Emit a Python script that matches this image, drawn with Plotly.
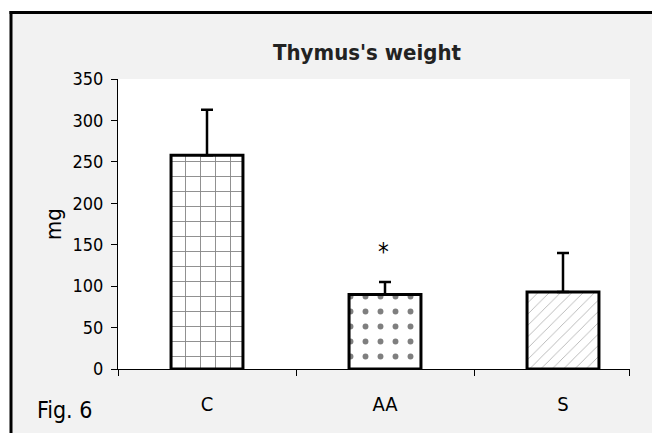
import plotly.graph_objects as go

categories = ["C", "AA", "S"]
means = [258, 90, 93]
errors = [55, 15, 47]
patterns = ["+", ".", "/"]
title_text = "Thymus's weight"
y_label = "mg"
fig_label = "Fig. 6"
y_ticks = [0, 50, 100, 150, 200, 250, 300, 350]

W, H = 652, 433
L, R, T, B = 118, 630, 79, 369  # plot area in px
FONT = "DejaVu Sans Condensed, DejaVu Sans, sans-serif"

def px(x):
    return (x - L) / (R - L)

def py(y):
    return (B - y) / (B - T)

unit = 178.0
x_end = -0.5 + (R - L) / unit
xs = list(range(len(categories)))

pat_style = {
    "+": dict(size=15, solidity=0.12, fgcolor="#111"),
    ".": dict(size=15, solidity=0.12, fgcolor="#000"),
    "/": dict(size=8, solidity=0.09, fgcolor="#444"),
}

fig = go.Figure()
for i, (c, m, e, p) in enumerate(zip(categories, means, errors, patterns)):
    fig.add_trace(go.Bar(
        x=[xs[i]], y=[m], width=0.404,
        marker=dict(color="white",
                    line=dict(color="black", width=3),
                    pattern=dict(shape=p, bgcolor="white", **pat_style[p])),
        error_y=dict(type="data", array=[e], arrayminus=[0], symmetric=False,
                     thickness=2.5, width=6, color="black"),
        showlegend=False, hoverinfo="skip",
    ))

fig.add_annotation(x=xs[1], y=means[1] + errors[1], yshift=30, text="*",
                   showarrow=False, font=dict(size=24, family=FONT, color="black"),
                   xshift=-2)

shapes = [
    dict(type="rect", xref="paper", yref="paper", layer="below",
         x0=px(0), x1=px(11), y0=py(H), y1=py(0), fillcolor="white", line=dict(width=0)),
    dict(type="rect", xref="paper", yref="paper", layer="below",
         x0=px(0), x1=px(W), y0=py(12.5), y1=py(0), fillcolor="white", line=dict(width=0)),
    dict(type="line", xref="paper", yref="paper", layer="above",
         x0=px(11), x1=px(11), y0=py(11), y1=py(H), line=dict(color="black", width=3)),
    dict(type="line", xref="paper", yref="paper", layer="above",
         x0=px(9.5), x1=px(W), y0=py(12.5), y1=py(12.5), line=dict(color="black", width=3)),
    dict(type="rect", xref="paper", yref="paper", layer="below",
         x0=0, x1=1, y0=0, y1=1, fillcolor="white", line=dict(width=0)),
]

fig.update_layout(
    width=W, height=H,
    margin=dict(l=L, r=W - R, t=T, b=H - B, autoexpand=False),
    paper_bgcolor="#f2f2f2", plot_bgcolor="rgba(0,0,0,0)",
    shapes=shapes, barmode="overlay",
    font=dict(family=FONT, color="black", size=18),
    title=dict(text=f"<b>{title_text}</b>", x=367 / W, xanchor="center",
               y=1 - 52 / H, yanchor="middle",
               font=dict(size=22, family=FONT, color="#222")),
    xaxis=dict(range=[-0.5, x_end], tickvals=xs, ticktext=categories,
               ticks="", showline=True, linecolor="black", linewidth=1,
               showgrid=False, zeroline=False, ticklabelstandoff=17,
               tickfont=dict(size=20),
               minor=dict(tickvals=[-0.5, 0.5, 1.5, x_end - 0.003], ticks="outside",
                          ticklen=6, tickcolor="black", tickwidth=1, showgrid=False)),
    yaxis=dict(range=[0, 350], tickvals=y_ticks, ticks="outside", ticklen=6,
               tickcolor="black", showline=True, linecolor="black", linewidth=1,
               showgrid=False, zeroline=False, tickfont=dict(size=18),
               ticklabelstandoff=4,
               title=dict(text=y_label, font=dict(size=22), standoff=4)),
)

fig.add_annotation(xref="paper", yref="paper", x=px(35), y=py(410),
                   xanchor="left", yanchor="middle", text=fig_label,
                   showarrow=False, font=dict(size=23, family=FONT, color="black"))

fig.write_html("out.html")
